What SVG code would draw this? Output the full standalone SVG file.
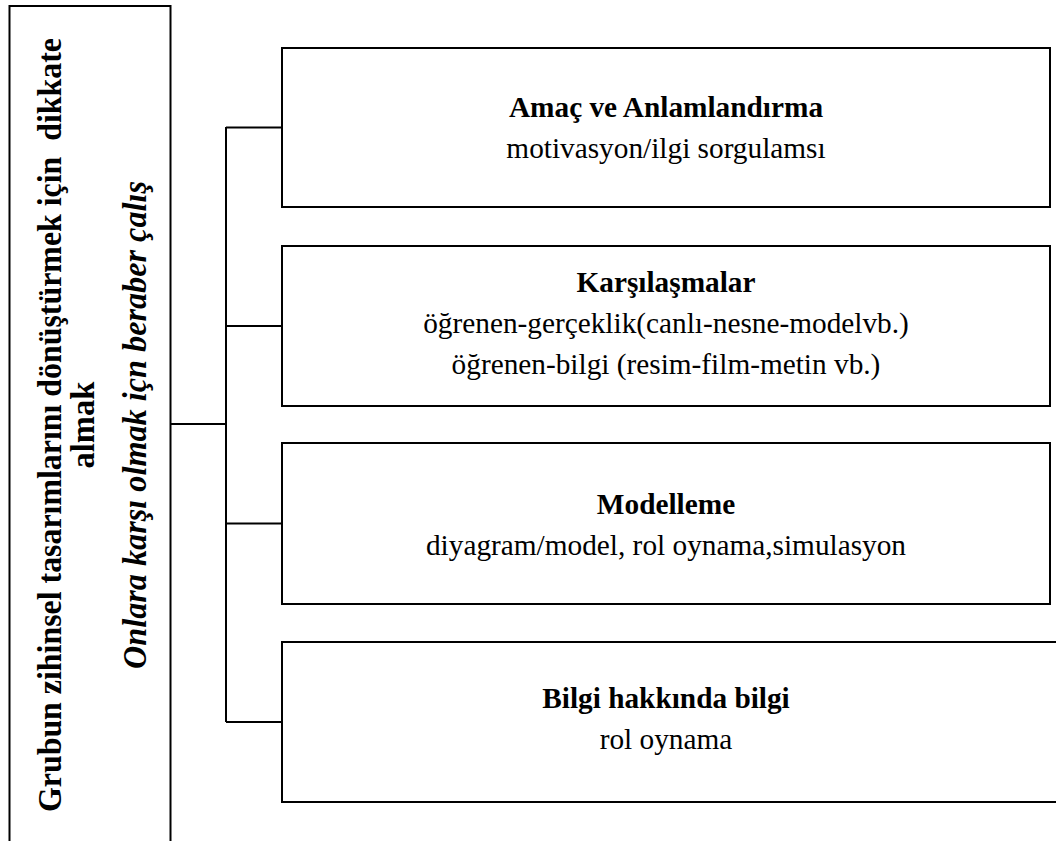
<svg xmlns="http://www.w3.org/2000/svg" width="1056" height="841" viewBox="0 0 1056 841">
<style>
.box{fill:#fff;stroke:#000;stroke-width:2}
.conn{fill:none;stroke:#000;stroke-width:2}
.t{font-family:"Liberation Serif","Times New Roman",serif;font-size:29.3px;text-anchor:middle;fill:#000}
.b{font-weight:bold}
.lt{font-family:"Liberation Serif","Times New Roman",serif;font-size:33px;font-weight:bold;text-anchor:middle;fill:#000}
</style>
<rect width="1056" height="841" fill="#fff"/>
<g id="root">
<rect class="box" x="9.5" y="6" width="161" height="860"/>
<g transform="translate(0,425) rotate(-90)">
<text class="lt" x="0" y="61" xml:space="preserve" textLength="774" lengthAdjust="spacingAndGlyphs">Grubun zihinsel tasarımlarını dönüştürmek için  dikkate</text>
<text class="lt" x="0" y="94" textLength="87" lengthAdjust="spacingAndGlyphs">almak</text>
<text class="lt" x="0" y="146" font-style="italic" textLength="488" lengthAdjust="spacingAndGlyphs">Onlara karşı olmak içn beraber çalış</text>
</g>
</g>
<g id="connectors">
<path class="conn" d="M226 127 V722"/>
<path class="conn" d="M170 424 H226" stroke-width="3"/>
<path class="conn" d="M226 127.5 H282 M226 326 H282 M226 523.5 H282 M226 722 H282"/>
</g>
<g id="n1">
<rect class="box" x="282" y="48" width="768" height="159"/>
<text class="t b" x="666" y="117">Amaç ve Anlamlandırma</text>
<text class="t" x="666" y="158">motivasyon/ilgi sorgulamsı</text>
</g>
<g id="n2">
<rect class="box" x="282" y="246" width="768" height="160"/>
<text class="t b" x="666" y="292">Karşılaşmalar</text>
<text class="t" x="666" y="333">öğrenen-gerçeklik(canlı-nesne-modelvb.)</text>
<text class="t" x="666" y="374">öğrenen-bilgi (resim-film-metin vb.)</text>
</g>
<g id="n3">
<rect class="box" x="282" y="443" width="768" height="161"/>
<text class="t b" x="666" y="514">Modelleme</text>
<text class="t" x="666" y="555">diyagram/model, rol oynama,simulasyon</text>
</g>
<g id="n4">
<rect class="box" x="282" y="642" width="800" height="160"/>
<text class="t b" x="666" y="708">Bilgi hakkında bilgi</text>
<text class="t" x="666" y="749">rol oynama</text>
</g>
</svg>
